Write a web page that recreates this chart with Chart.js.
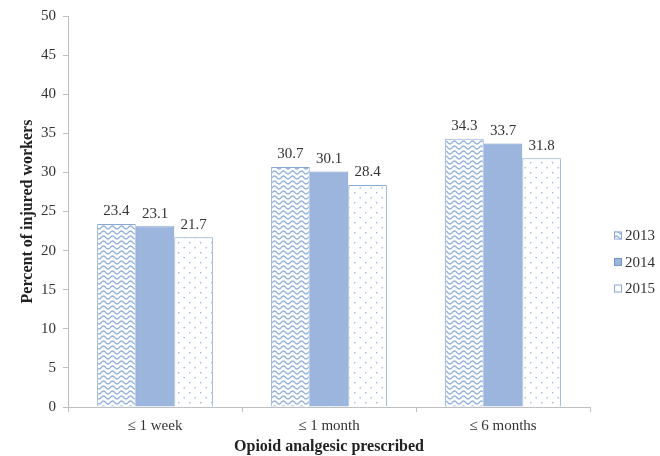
<!DOCTYPE html>
<html><head><meta charset="utf-8">
<script src="https://cdn.jsdelivr.net/npm/chart.js@4"></script>
<style>html,body{margin:0;padding:0;background:#fff}#wrap{width:660px;height:456px}</style>
</head><body><div id="wrap"><canvas id="c" width="660" height="456"></canvas></div>
<script>
const categories = ["\u2264 1 week", "\u2264 1 month", "\u2264 6 months"];
const seriesNames = ["2013", "2014", "2015"];
const values2013 = [23.4, 30.7, 34.3];
const values2014 = [23.1, 30.1, 33.7];
const values2015 = [21.7, 28.4, 31.8];
const yTicks = [0, 5, 10, 15, 20, 25, 30, 35, 40, 45, 50];

const FONT = 'Liberation Serif';

function wavePattern() {
  const c = document.createElement('canvas'); c.width = 9; c.height = 5;
  const x = c.getContext('2d');
  x.fillStyle = '#ffffff'; x.fillRect(0,0,9,5);
  x.strokeStyle = '#8fafdd'; x.lineWidth = 1.3;
  x.beginPath();
  for (let i = 0; i <= 18; i++) {
    const px = i * 0.5;
    const py = 2.5 + 1.5 * Math.cos(px / 9 * 2 * Math.PI);
    if (i === 0) x.moveTo(px, py); else x.lineTo(px, py);
  }
  x.stroke();
  return x.createPattern(c, 'repeat');
}
function dotPattern() {
  const c = document.createElement('canvas'); c.width = 11; c.height = 10;
  const x = c.getContext('2d');
  x.fillStyle = '#ffffff'; x.fillRect(0,0,11,10);
  x.fillStyle = '#a3b6da';
  x.fillRect(2,2,1.4,1.4); x.fillRect(7.5,7,1.4,1.4);
  return x.createPattern(c, 'repeat');
}
const fills = [wavePattern(), '#9bb5dd', dotPattern()];
const borders = ['#88a7d5', '#7595ca', '#88a7d5'];

const labelPlugin = {
  id: 'barLabels',
  afterDatasetsDraw(chart) {
    const ctx = chart.ctx;
    ctx.save();
    ctx.font = '15px "' + FONT + '"';
    ctx.fillStyle = '#333333';
    ctx.textAlign = 'center'; ctx.textBaseline = 'bottom';
    chart.data.datasets.forEach((ds, i) => {
      chart.getDatasetMeta(i).data.forEach((bar, j) => {
        ctx.fillText(ds.data[j].toFixed(1), bar.x, bar.y - 5);
      });
    });
    ctx.restore();
  }
};

const legendPlugin = {
  id: 'sideLegend',
  afterDraw(chart) {
    const ctx = chart.ctx;
    ctx.save();
    ctx.font = '15px "' + FONT + '"';
    ctx.textBaseline = 'middle'; ctx.textAlign = 'left';
    const x0 = chart.chartArea.right + 24;
    const yc = 262, step = 26.5;
    chart.data.datasets.forEach((ds, i) => {
      const y = yc + (i - 1) * step;
      ctx.fillStyle = ds.backgroundColor;
      ctx.fillRect(x0, y - 4, 8, 8);
      ctx.strokeStyle = ds.borderColor; ctx.lineWidth = 1;
      ctx.strokeRect(x0 + 0.5, y - 3.5, 7, 7);
      ctx.fillStyle = '#333333';
      ctx.fillText(ds.label, x0 + 11, y + 1);
    });
    ctx.restore();
  }
};

new Chart(document.getElementById('c'), {
  type: 'bar',
  data: {
    labels: categories,
    datasets: seriesNames.map((n, i) => ({
      label: n, data: [values2013, values2014, values2015][i],
      backgroundColor: fills[i], borderColor: borders[i], borderWidth: 1
    }))
  },
  options: {
    responsive: false, animation: false,
    layout: { padding: { top: 7, right: 70, left: 16, bottom: 0 } },
    datasets: { bar: { categoryPercentage: 0.665, barPercentage: 1.0 } },
    plugins: { legend: { display: false }, tooltip: { enabled: false } },
    scales: {
      x: {
        grid: { offset: true, drawOnChartArea: false, color: '#bfbfbf', tickLength: 5 },
        border: { color: '#bfbfbf' },
        ticks: { color: '#333', font: { family: FONT, size: 15 }, padding: 5 },
        title: { display: true, text: 'Opioid analgesic prescribed', color: '#222', font: { family: FONT, size: 16, weight: 'bold' }, padding: { top: 7, bottom: 0 } },
        afterFit(s) { s.height = 49; }
      },
      y: {
        min: 0, max: 50,
        afterBuildTicks(s) { s.ticks = yTicks.map(v => ({ value: v })); },
        grid: { drawOnChartArea: false, color: '#bfbfbf', tickLength: 5 },
        border: { color: '#bfbfbf' },
        ticks: { color: '#333', font: { family: FONT, size: 15 }, padding: 7 },
        title: { display: true, text: 'Percent of injured workers', color: '#222', font: { family: FONT, size: 16, weight: 'bold' }, padding: 2 },
        afterFit(s) { s.width = 52; }
      }
    }
  },
  plugins: [labelPlugin, legendPlugin]
});
</script></body></html>
